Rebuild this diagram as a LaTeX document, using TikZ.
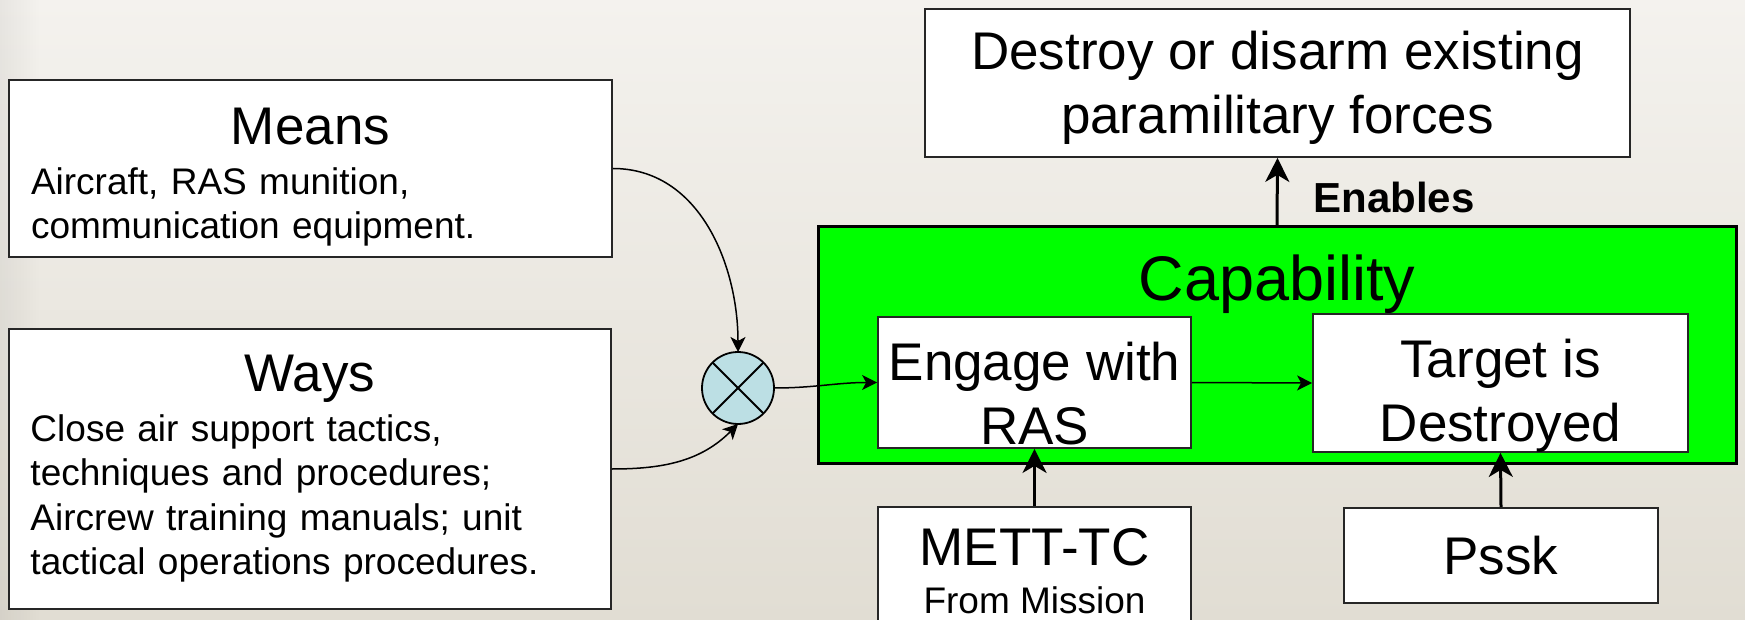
\documentclass[tikz,border=0pt]{standalone}
\usepackage{fontspec}
\setmainfont{Liberation Sans}
\usetikzlibrary{arrows.meta,fadings}

\definecolor{bgtop}{HTML}{F4F2EE}
\definecolor{bgbot}{HTML}{E1DDD3}
\definecolor{capgreen}{HTML}{00FF00}
\definecolor{mixblue}{HTML}{BCDFE4}

\begin{document}
\begin{tikzpicture}[x=1pt,y=-1pt,
  box/.style={draw=black!85,line width=1.8pt,fill=white,inner sep=0pt,align=center,
    font=\fontsize{53}{64}\selectfont},
  textbox/.style={box,align=left,text width=559pt,font=\fontsize{37}{44.5}\selectfont},
  lightarrow/.style={-{Stealth[length=15pt,width=15pt,inset=4pt]},line width=1.5pt},
  heavyarrow/.style={-{Stealth[length=24pt,width=24pt,inset=7pt]},line width=3pt}]

\useasboundingbox (0,0) rectangle (1745,620);
\shade[top color=bgtop,bottom color=bgbot] (0,0) rectangle (1745,620);
\fill[black,opacity=0.05,path fading=east] (0,0) rectangle (40,620);

\node [box,minimum width=705pt,minimum height=148pt] (dest) at (1277.5,83)
  {\rule{0pt}{49pt}Destroy or disarm existing\\paramilitary forces};

\node [draw,line width=3pt,fill=capgreen,minimum width=918pt,minimum height=236pt] (capbox) at (1277,345) {};
\node [anchor=base,font=\fontsize{63}{70}\selectfont] (captitle) at (1277,301) {Capability};

\node [box,minimum width=313pt,minimum height=131pt] (engage) at (1034.5,382.5)
  {\rule{0pt}{61pt}Engage with\\RAS};
\node [box,minimum width=375pt,minimum height=138pt] (target) at (1500.5,383)
  {\rule{0pt}{63pt}Target is\\Destroyed};

\node [box,minimum width=313pt,minimum height=120pt] (mett) at (1034.5,567)
  {\rule{0pt}{45pt}METT-TC\\[-16pt]{\fontsize{37}{44}\selectfont From Mission}};
\node [box,minimum width=314pt,minimum height=95pt] (pssk) at (1501,555.5) {Pssk};

\node [textbox,minimum width=603pt,minimum height=177pt] (means) at (310.5,168.5)
  {\makebox[\linewidth]{\fontsize{53}{53}\selectfont\rule{0pt}{54.6pt}Means}\\[5pt]
   Aircraft, RAS munition,\\communication equipment.};
\node [textbox,minimum width=602pt,minimum height=280pt] (ways) at (310,469)
  {\makebox[\linewidth]{\fontsize{53}{53}\selectfont Ways}\\[5pt]
   Close air support tactics,\\techniques and procedures;\\Aircrew training manuals; unit\\tactical operations procedures.};

\node [circle,draw,line width=1.8pt,fill=mixblue,minimum size=72pt,inner sep=0pt,outer sep=0pt] (mix) at (738,388) {};
\draw [line width=1.8pt] (mix.north west) -- (mix.south east);
\draw [line width=1.8pt] (mix.north east) -- (mix.south west);

\draw [lightarrow] (means.east) to[out=0,in=90] (mix.north);
\draw [lightarrow] (ways.east) to[out=0,in=-135] (mix.south);
\draw [lightarrow] (mix.east) to[out=0,in=180] (engage.west);
\draw [lightarrow] (engage.east) -- (target.west);

\draw [heavyarrow] (mett.north) -- (engage.south);
\draw [heavyarrow] (pssk.north) -- (target.south);
\draw [heavyarrow] (capbox.north) -- (dest.south);
\node [anchor=base west,font=\bfseries\fontsize{42}{50}\selectfont] (enables) at (1310,213) {Enables};
\end{tikzpicture}
\end{document}
